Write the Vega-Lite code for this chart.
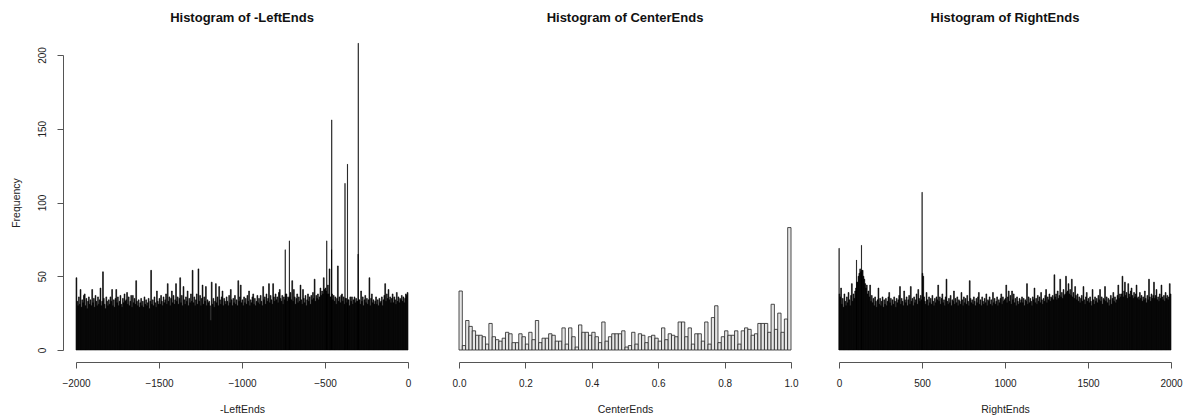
{
"$schema":"https://vega.github.io/schema/vega-lite/v6.json",
"background":"white",
"padding":{"left":11,"top":11,"right":8,"bottom":2},
"config":{
 "view":{"stroke":null},
 "font":"Liberation Sans",
 "axis":{"grid":false,"domainColor":"#555","tickColor":"#555","labelColor":"#222","titleColor":"#222","labelFont":"Liberation Sans","titleFont":"Liberation Sans","labelFontSize":10,"titleFontSize":10.5,"titleFontWeight":"normal","tickSize":6,"domainWidth":1,"tickWidth":1,"labelFlush":false,"labelOverlap":false},
 "title":{"fontSize":13,"fontWeight":"bold","font":"Liberation Sans","color":"#111","offset":30,"anchor":"middle"}
},
"datasets":{
"L":[
{"a":-2000,"b":-1995,"n":49},{"a":-1995,"b":-1990,"n":33},{"a":-1990,"b":-1985,"n":30},{"a":-1985,"b":-1980,"n":36},{"a":-1980,"b":-1975,"n":31},{"a":-1975,"b":-1970,"n":41},{"a":-1970,"b":-1965,"n":29},{"a":-1965,"b":-1960,"n":34},{"a":-1960,"b":-1955,"n":32},{"a":-1955,"b":-1950,"n":37},{"a":-1950,"b":-1945,"n":38},{"a":-1945,"b":-1940,"n":30},{"a":-1940,"b":-1935,"n":35},{"a":-1935,"b":-1930,"n":28},{"a":-1930,"b":-1925,"n":33},{"a":-1925,"b":-1920,"n":36},{"a":-1920,"b":-1915,"n":31},{"a":-1915,"b":-1910,"n":34},{"a":-1910,"b":-1905,"n":30},{"a":-1905,"b":-1900,"n":41},
{"a":-1900,"b":-1895,"n":32},{"a":-1895,"b":-1890,"n":35},{"a":-1890,"b":-1885,"n":29},{"a":-1885,"b":-1880,"n":37},{"a":-1880,"b":-1875,"n":33},{"a":-1875,"b":-1870,"n":30},{"a":-1870,"b":-1865,"n":36},{"a":-1865,"b":-1860,"n":31},{"a":-1860,"b":-1855,"n":34},{"a":-1855,"b":-1850,"n":42},{"a":-1850,"b":-1845,"n":30},{"a":-1845,"b":-1840,"n":33},{"a":-1840,"b":-1835,"n":53},{"a":-1835,"b":-1830,"n":35},{"a":-1830,"b":-1825,"n":31},{"a":-1825,"b":-1820,"n":28},{"a":-1820,"b":-1815,"n":36},{"a":-1815,"b":-1810,"n":33},{"a":-1810,"b":-1805,"n":30},{"a":-1805,"b":-1800,"n":34},
{"a":-1800,"b":-1795,"n":31},{"a":-1795,"b":-1790,"n":36},{"a":-1790,"b":-1785,"n":33},{"a":-1785,"b":-1780,"n":41},{"a":-1780,"b":-1775,"n":30},{"a":-1775,"b":-1770,"n":34},{"a":-1770,"b":-1765,"n":29},{"a":-1765,"b":-1760,"n":35},{"a":-1760,"b":-1755,"n":41},{"a":-1755,"b":-1750,"n":32},{"a":-1750,"b":-1745,"n":36},{"a":-1745,"b":-1740,"n":30},{"a":-1740,"b":-1735,"n":33},{"a":-1735,"b":-1730,"n":37},{"a":-1730,"b":-1725,"n":31},{"a":-1725,"b":-1720,"n":29},{"a":-1720,"b":-1715,"n":35},{"a":-1715,"b":-1710,"n":32},{"a":-1710,"b":-1705,"n":38},{"a":-1705,"b":-1700,"n":33},
{"a":-1700,"b":-1695,"n":34},{"a":-1695,"b":-1690,"n":39},{"a":-1690,"b":-1685,"n":31},{"a":-1685,"b":-1680,"n":36},{"a":-1680,"b":-1675,"n":30},{"a":-1675,"b":-1670,"n":33},{"a":-1670,"b":-1665,"n":37},{"a":-1665,"b":-1660,"n":29},{"a":-1660,"b":-1655,"n":37},{"a":-1655,"b":-1650,"n":32},{"a":-1650,"b":-1645,"n":35},{"a":-1645,"b":-1640,"n":31},{"a":-1640,"b":-1635,"n":47},{"a":-1635,"b":-1630,"n":33},{"a":-1630,"b":-1625,"n":30},{"a":-1625,"b":-1620,"n":34},{"a":-1620,"b":-1615,"n":29},{"a":-1615,"b":-1610,"n":32},{"a":-1610,"b":-1605,"n":35},{"a":-1605,"b":-1600,"n":30},
{"a":-1600,"b":-1595,"n":33},{"a":-1595,"b":-1590,"n":29},{"a":-1590,"b":-1585,"n":36},{"a":-1585,"b":-1580,"n":31},{"a":-1580,"b":-1575,"n":34},{"a":-1575,"b":-1570,"n":30},{"a":-1570,"b":-1565,"n":32},{"a":-1565,"b":-1560,"n":35},{"a":-1560,"b":-1555,"n":28},{"a":-1555,"b":-1550,"n":33},{"a":-1550,"b":-1545,"n":54},{"a":-1545,"b":-1540,"n":31},{"a":-1540,"b":-1535,"n":34},{"a":-1535,"b":-1530,"n":30},{"a":-1530,"b":-1525,"n":36},{"a":-1525,"b":-1520,"n":32},{"a":-1520,"b":-1515,"n":29},{"a":-1515,"b":-1510,"n":40},{"a":-1510,"b":-1505,"n":33},{"a":-1505,"b":-1500,"n":31},
{"a":-1500,"b":-1495,"n":35},{"a":-1495,"b":-1490,"n":31},{"a":-1490,"b":-1485,"n":37},{"a":-1485,"b":-1480,"n":33},{"a":-1480,"b":-1475,"n":30},{"a":-1475,"b":-1470,"n":36},{"a":-1470,"b":-1465,"n":32},{"a":-1465,"b":-1460,"n":34},{"a":-1460,"b":-1455,"n":38},{"a":-1455,"b":-1450,"n":31},{"a":-1450,"b":-1445,"n":45},{"a":-1445,"b":-1440,"n":33},{"a":-1440,"b":-1435,"n":36},{"a":-1435,"b":-1430,"n":30},{"a":-1430,"b":-1425,"n":35},{"a":-1425,"b":-1420,"n":40},{"a":-1420,"b":-1415,"n":32},{"a":-1415,"b":-1410,"n":37},{"a":-1410,"b":-1405,"n":31},{"a":-1405,"b":-1400,"n":34},
{"a":-1400,"b":-1395,"n":45},{"a":-1395,"b":-1390,"n":33},{"a":-1390,"b":-1385,"n":36},{"a":-1385,"b":-1380,"n":31},{"a":-1380,"b":-1375,"n":35},{"a":-1375,"b":-1370,"n":49},{"a":-1370,"b":-1365,"n":32},{"a":-1365,"b":-1360,"n":37},{"a":-1360,"b":-1355,"n":30},{"a":-1355,"b":-1350,"n":43},{"a":-1350,"b":-1345,"n":34},{"a":-1345,"b":-1340,"n":31},{"a":-1340,"b":-1335,"n":36},{"a":-1335,"b":-1330,"n":33},{"a":-1330,"b":-1325,"n":40},{"a":-1325,"b":-1320,"n":30},{"a":-1320,"b":-1315,"n":35},{"a":-1315,"b":-1310,"n":32},{"a":-1310,"b":-1305,"n":38},{"a":-1305,"b":-1300,"n":33},
{"a":-1300,"b":-1295,"n":54},{"a":-1295,"b":-1290,"n":32},{"a":-1290,"b":-1285,"n":36},{"a":-1285,"b":-1280,"n":30},{"a":-1280,"b":-1275,"n":34},{"a":-1275,"b":-1270,"n":38},{"a":-1270,"b":-1265,"n":31},{"a":-1265,"b":-1260,"n":55},{"a":-1260,"b":-1255,"n":33},{"a":-1255,"b":-1250,"n":37},{"a":-1250,"b":-1245,"n":30},{"a":-1245,"b":-1240,"n":35},{"a":-1240,"b":-1235,"n":44},{"a":-1235,"b":-1230,"n":31},{"a":-1230,"b":-1225,"n":36},{"a":-1225,"b":-1220,"n":33},{"a":-1220,"b":-1215,"n":43},{"a":-1215,"b":-1210,"n":30},{"a":-1210,"b":-1205,"n":34},{"a":-1205,"b":-1200,"n":32},
{"a":-1200,"b":-1195,"n":33},{"a":-1195,"b":-1190,"n":30},{"a":-1190,"b":-1185,"n":20},{"a":-1185,"b":-1180,"n":46},{"a":-1180,"b":-1175,"n":31},{"a":-1175,"b":-1170,"n":35},{"a":-1170,"b":-1165,"n":29},{"a":-1165,"b":-1160,"n":33},{"a":-1160,"b":-1155,"n":45},{"a":-1155,"b":-1150,"n":32},{"a":-1150,"b":-1145,"n":36},{"a":-1145,"b":-1140,"n":30},{"a":-1140,"b":-1135,"n":43},{"a":-1135,"b":-1130,"n":34},{"a":-1130,"b":-1125,"n":31},{"a":-1125,"b":-1120,"n":36},{"a":-1120,"b":-1115,"n":40},{"a":-1115,"b":-1110,"n":30},{"a":-1110,"b":-1105,"n":35},{"a":-1105,"b":-1100,"n":33},
{"a":-1100,"b":-1095,"n":31},{"a":-1095,"b":-1090,"n":36},{"a":-1090,"b":-1085,"n":33},{"a":-1085,"b":-1080,"n":30},{"a":-1080,"b":-1075,"n":37},{"a":-1075,"b":-1070,"n":32},{"a":-1070,"b":-1065,"n":41},{"a":-1065,"b":-1060,"n":34},{"a":-1060,"b":-1055,"n":30},{"a":-1055,"b":-1050,"n":35},{"a":-1050,"b":-1045,"n":32},{"a":-1045,"b":-1040,"n":37},{"a":-1040,"b":-1035,"n":31},{"a":-1035,"b":-1030,"n":34},{"a":-1030,"b":-1025,"n":30},{"a":-1025,"b":-1020,"n":47},{"a":-1020,"b":-1015,"n":33},{"a":-1015,"b":-1010,"n":36},{"a":-1010,"b":-1005,"n":44},{"a":-1005,"b":-1000,"n":32},
{"a":-1000,"b":-995,"n":34},{"a":-995,"b":-990,"n":30},{"a":-990,"b":-985,"n":36},{"a":-985,"b":-980,"n":32},{"a":-980,"b":-975,"n":35},{"a":-975,"b":-970,"n":31},{"a":-970,"b":-965,"n":37},{"a":-965,"b":-960,"n":33},{"a":-960,"b":-955,"n":40},{"a":-955,"b":-950,"n":30},{"a":-950,"b":-945,"n":34},{"a":-945,"b":-940,"n":32},{"a":-940,"b":-935,"n":36},{"a":-935,"b":-930,"n":38},{"a":-930,"b":-925,"n":31},{"a":-925,"b":-920,"n":35},{"a":-920,"b":-915,"n":30},{"a":-915,"b":-910,"n":33},{"a":-910,"b":-905,"n":37},{"a":-905,"b":-900,"n":32},
{"a":-900,"b":-895,"n":35},{"a":-895,"b":-890,"n":31},{"a":-890,"b":-885,"n":37},{"a":-885,"b":-880,"n":33},{"a":-880,"b":-875,"n":30},{"a":-875,"b":-870,"n":43},{"a":-870,"b":-865,"n":34},{"a":-865,"b":-860,"n":36},{"a":-860,"b":-855,"n":31},{"a":-855,"b":-850,"n":38},{"a":-850,"b":-845,"n":33},{"a":-845,"b":-840,"n":35},{"a":-840,"b":-835,"n":45},{"a":-835,"b":-830,"n":32},{"a":-830,"b":-825,"n":37},{"a":-825,"b":-820,"n":34},{"a":-820,"b":-815,"n":31},{"a":-815,"b":-810,"n":45},{"a":-810,"b":-805,"n":36},{"a":-805,"b":-800,"n":33},
{"a":-800,"b":-795,"n":38},{"a":-795,"b":-790,"n":34},{"a":-790,"b":-785,"n":36},{"a":-785,"b":-780,"n":32},{"a":-780,"b":-775,"n":39},{"a":-775,"b":-770,"n":41},{"a":-770,"b":-765,"n":35},{"a":-765,"b":-760,"n":33},{"a":-760,"b":-755,"n":37},{"a":-755,"b":-750,"n":31},{"a":-750,"b":-745,"n":36},{"a":-745,"b":-740,"n":34},{"a":-740,"b":-739,"n":68},{"a":-739,"b":-735,"n":38},{"a":-735,"b":-730,"n":38},{"a":-730,"b":-725,"n":33},{"a":-725,"b":-720,"n":36},{"a":-720,"b":-715,"n":35},{"a":-715,"b":-714,"n":74},{"a":-714,"b":-710,"n":36},{"a":-710,"b":-705,"n":39},{"a":-705,"b":-700,"n":34},
{"a":-700,"b":-695,"n":47},{"a":-695,"b":-690,"n":33},{"a":-690,"b":-685,"n":41},{"a":-685,"b":-680,"n":36},{"a":-680,"b":-675,"n":31},{"a":-675,"b":-670,"n":35},{"a":-670,"b":-665,"n":38},{"a":-665,"b":-660,"n":32},{"a":-660,"b":-655,"n":36},{"a":-655,"b":-650,"n":33},{"a":-650,"b":-645,"n":44},{"a":-645,"b":-640,"n":34},{"a":-640,"b":-635,"n":31},{"a":-635,"b":-630,"n":41},{"a":-630,"b":-625,"n":35},{"a":-625,"b":-620,"n":32},{"a":-620,"b":-615,"n":37},{"a":-615,"b":-610,"n":30},{"a":-610,"b":-605,"n":34},{"a":-605,"b":-600,"n":38},
{"a":-600,"b":-595,"n":33},{"a":-595,"b":-590,"n":36},{"a":-590,"b":-585,"n":31},{"a":-585,"b":-580,"n":37},{"a":-580,"b":-575,"n":34},{"a":-575,"b":-570,"n":39},{"a":-570,"b":-565,"n":35},{"a":-565,"b":-560,"n":48},{"a":-560,"b":-555,"n":33},{"a":-555,"b":-550,"n":37},{"a":-550,"b":-545,"n":35},{"a":-545,"b":-540,"n":38},{"a":-540,"b":-535,"n":34},{"a":-535,"b":-530,"n":36},{"a":-530,"b":-525,"n":42},{"a":-525,"b":-520,"n":37},{"a":-520,"b":-515,"n":40},{"a":-515,"b":-510,"n":38},{"a":-510,"b":-505,"n":49},{"a":-505,"b":-500,"n":41},
{"a":-500,"b":-495,"n":42},{"a":-495,"b":-490,"n":40},{"a":-490,"b":-489,"n":74},{"a":-489,"b":-485,"n":38},{"a":-485,"b":-480,"n":44},{"a":-480,"b":-475,"n":38},{"a":-475,"b":-470,"n":55},{"a":-470,"b":-465,"n":36},{"a":-465,"b":-461,"n":36},{"a":-461,"b":-460,"n":68},{"a":-460,"b":-459,"n":156},{"a":-459,"b":-455,"n":38},{"a":-455,"b":-450,"n":34},{"a":-450,"b":-445,"n":37},{"a":-445,"b":-440,"n":33},{"a":-440,"b":-435,"n":36},{"a":-435,"b":-430,"n":31},{"a":-430,"b":-425,"n":35},{"a":-425,"b":-420,"n":57},{"a":-420,"b":-415,"n":33},{"a":-415,"b":-410,"n":36},{"a":-410,"b":-405,"n":32},{"a":-405,"b":-400,"n":37},
{"a":-400,"b":-395,"n":38},{"a":-395,"b":-390,"n":33},{"a":-390,"b":-385,"n":36},{"a":-385,"b":-380,"n":31},{"a":-380,"b":-379,"n":113},{"a":-379,"b":-375,"n":35},{"a":-375,"b":-370,"n":35},{"a":-370,"b":-365,"n":32},{"a":-365,"b":-364,"n":126},{"a":-364,"b":-360,"n":34},{"a":-360,"b":-355,"n":34},{"a":-355,"b":-350,"n":30},{"a":-350,"b":-345,"n":36},{"a":-345,"b":-340,"n":33},{"a":-340,"b":-335,"n":36},{"a":-335,"b":-330,"n":31},{"a":-330,"b":-325,"n":34},{"a":-325,"b":-320,"n":36},{"a":-320,"b":-315,"n":32},{"a":-315,"b":-310,"n":35},{"a":-310,"b":-305,"n":33},{"a":-305,"b":-301,"n":33},{"a":-301,"b":-300,"n":65},
{"a":-300,"b":-299,"n":208},{"a":-299,"b":-295,"n":34},{"a":-295,"b":-290,"n":34},{"a":-290,"b":-285,"n":31},{"a":-285,"b":-280,"n":40},{"a":-280,"b":-275,"n":33},{"a":-275,"b":-270,"n":36},{"a":-270,"b":-265,"n":30},{"a":-265,"b":-260,"n":34},{"a":-260,"b":-255,"n":37},{"a":-255,"b":-250,"n":32},{"a":-250,"b":-245,"n":35},{"a":-245,"b":-240,"n":31},{"a":-240,"b":-235,"n":34},{"a":-235,"b":-230,"n":49},{"a":-230,"b":-225,"n":30},{"a":-225,"b":-220,"n":35},{"a":-220,"b":-215,"n":38},{"a":-215,"b":-210,"n":32},{"a":-210,"b":-205,"n":34},{"a":-205,"b":-200,"n":31},
{"a":-200,"b":-195,"n":33},{"a":-195,"b":-190,"n":36},{"a":-190,"b":-185,"n":31},{"a":-185,"b":-180,"n":34},{"a":-180,"b":-175,"n":30},{"a":-175,"b":-170,"n":35},{"a":-170,"b":-165,"n":32},{"a":-165,"b":-160,"n":33},{"a":-160,"b":-155,"n":36},{"a":-155,"b":-150,"n":30},{"a":-150,"b":-145,"n":34},{"a":-145,"b":-140,"n":37},{"a":-140,"b":-135,"n":45},{"a":-135,"b":-130,"n":33},{"a":-130,"b":-125,"n":38},{"a":-125,"b":-120,"n":35},{"a":-120,"b":-115,"n":41},{"a":-115,"b":-110,"n":34},{"a":-110,"b":-105,"n":36},{"a":-105,"b":-100,"n":32},
{"a":-100,"b":-95,"n":35},{"a":-95,"b":-90,"n":38},{"a":-90,"b":-85,"n":32},{"a":-85,"b":-80,"n":36},{"a":-80,"b":-75,"n":34},{"a":-75,"b":-70,"n":31},{"a":-70,"b":-65,"n":39},{"a":-65,"b":-60,"n":33},{"a":-60,"b":-55,"n":36},{"a":-55,"b":-50,"n":32},{"a":-50,"b":-45,"n":35},{"a":-45,"b":-40,"n":34},{"a":-40,"b":-35,"n":37},{"a":-35,"b":-30,"n":33},{"a":-30,"b":-25,"n":36},{"a":-25,"b":-20,"n":32},{"a":-20,"b":-15,"n":35},{"a":-15,"b":-10,"n":38},{"a":-10,"b":-5,"n":37},{"a":-5,"b":0,"n":39}
],
"C":[
{"a":0,"b":0.01,"n":40},{"a":0.01,"b":0.02,"n":3},{"a":0.02,"b":0.03,"n":20},{"a":0.03,"b":0.04,"n":16},{"a":0.04,"b":0.05,"n":13},{"a":0.05,"b":0.06,"n":10},{"a":0.06,"b":0.07,"n":10},{"a":0.07,"b":0.08,"n":9},{"a":0.08,"b":0.09,"n":4},{"a":0.09,"b":0.1,"n":18},
{"a":0.1,"b":0.11,"n":9},{"a":0.11,"b":0.12,"n":7},{"a":0.12,"b":0.13,"n":6},{"a":0.13,"b":0.14,"n":8},{"a":0.14,"b":0.15,"n":12},{"a":0.15,"b":0.16,"n":11},{"a":0.16,"b":0.17,"n":5},{"a":0.17,"b":0.18,"n":5},{"a":0.18,"b":0.19,"n":11},{"a":0.19,"b":0.2,"n":9},
{"a":0.2,"b":0.21,"n":4},{"a":0.21,"b":0.22,"n":12},{"a":0.22,"b":0.23,"n":7},{"a":0.23,"b":0.24,"n":20},{"a":0.24,"b":0.25,"n":5},{"a":0.25,"b":0.26,"n":8},{"a":0.26,"b":0.27,"n":8},{"a":0.27,"b":0.28,"n":11},{"a":0.28,"b":0.29,"n":10},{"a":0.29,"b":0.3,"n":6},
{"a":0.3,"b":0.31,"n":6},{"a":0.31,"b":0.32,"n":15},{"a":0.32,"b":0.33,"n":4},{"a":0.33,"b":0.34,"n":15},{"a":0.34,"b":0.35,"n":9},{"a":0.35,"b":0.36,"n":2},{"a":0.36,"b":0.37,"n":17},{"a":0.37,"b":0.38,"n":12},{"a":0.38,"b":0.39,"n":12},{"a":0.39,"b":0.4,"n":10},
{"a":0.4,"b":0.41,"n":12},{"a":0.41,"b":0.42,"n":9},{"a":0.42,"b":0.43,"n":5},{"a":0.43,"b":0.44,"n":19},{"a":0.44,"b":0.45,"n":6},{"a":0.45,"b":0.46,"n":9},{"a":0.46,"b":0.47,"n":11},{"a":0.47,"b":0.48,"n":11},{"a":0.48,"b":0.49,"n":11},{"a":0.49,"b":0.5,"n":13},
{"a":0.5,"b":0.51,"n":2},{"a":0.51,"b":0.52,"n":3},{"a":0.52,"b":0.53,"n":12},{"a":0.53,"b":0.54,"n":4},{"a":0.54,"b":0.55,"n":11},{"a":0.55,"b":0.56,"n":10},{"a":0.56,"b":0.57,"n":5},{"a":0.57,"b":0.58,"n":9},{"a":0.58,"b":0.59,"n":10},{"a":0.59,"b":0.6,"n":8},
{"a":0.6,"b":0.61,"n":6},{"a":0.61,"b":0.62,"n":15},{"a":0.62,"b":0.63,"n":7},{"a":0.63,"b":0.64,"n":11},{"a":0.64,"b":0.65,"n":10},{"a":0.65,"b":0.66,"n":9},{"a":0.66,"b":0.67,"n":19},{"a":0.67,"b":0.68,"n":19},{"a":0.68,"b":0.69,"n":9},{"a":0.69,"b":0.7,"n":15},
{"a":0.7,"b":0.71,"n":4},{"a":0.71,"b":0.72,"n":11},{"a":0.72,"b":0.73,"n":11},{"a":0.73,"b":0.74,"n":6},{"a":0.74,"b":0.75,"n":19},{"a":0.75,"b":0.76,"n":4},{"a":0.76,"b":0.77,"n":22},{"a":0.77,"b":0.78,"n":30},{"a":0.78,"b":0.79,"n":5},{"a":0.79,"b":0.8,"n":9},
{"a":0.8,"b":0.81,"n":13},{"a":0.81,"b":0.82,"n":10},{"a":0.82,"b":0.83,"n":10},{"a":0.83,"b":0.84,"n":13},{"a":0.84,"b":0.85,"n":4},{"a":0.85,"b":0.86,"n":13},{"a":0.86,"b":0.87,"n":15},{"a":0.87,"b":0.88,"n":14},{"a":0.88,"b":0.89,"n":10},{"a":0.89,"b":0.9,"n":11},
{"a":0.9,"b":0.91,"n":18},{"a":0.91,"b":0.92,"n":18},{"a":0.92,"b":0.93,"n":18},{"a":0.93,"b":0.94,"n":12},{"a":0.94,"b":0.95,"n":31},{"a":0.95,"b":0.96,"n":14},{"a":0.96,"b":0.97,"n":25},{"a":0.97,"b":0.98,"n":12},{"a":0.98,"b":0.99,"n":21},{"a":0.99,"b":1,"n":83}
],
"R":[
{"a":0,"b":1,"n":69},{"a":1,"b":5,"n":38},{"a":5,"b":10,"n":36},{"a":10,"b":15,"n":42},{"a":15,"b":20,"n":31},{"a":20,"b":25,"n":35},{"a":25,"b":30,"n":29},{"a":30,"b":35,"n":38},{"a":35,"b":40,"n":33},{"a":40,"b":45,"n":30},{"a":45,"b":50,"n":36},{"a":50,"b":55,"n":32},{"a":55,"b":60,"n":39},{"a":60,"b":65,"n":34},{"a":65,"b":70,"n":30},{"a":70,"b":75,"n":37},{"a":75,"b":80,"n":45},{"a":80,"b":85,"n":33},{"a":85,"b":90,"n":38},{"a":90,"b":95,"n":35},{"a":95,"b":100,"n":40},
{"a":100,"b":105,"n":42},{"a":105,"b":106,"n":61},{"a":106,"b":110,"n":46},{"a":110,"b":115,"n":46},{"a":115,"b":120,"n":50},{"a":120,"b":125,"n":52},{"a":125,"b":130,"n":55},{"a":130,"b":135,"n":53},{"a":135,"b":136,"n":71},{"a":136,"b":140,"n":54},{"a":140,"b":145,"n":54},{"a":145,"b":150,"n":50},{"a":150,"b":155,"n":48},{"a":155,"b":160,"n":45},{"a":160,"b":165,"n":42},{"a":165,"b":170,"n":44},{"a":170,"b":175,"n":38},{"a":175,"b":180,"n":40},{"a":180,"b":185,"n":36},{"a":185,"b":190,"n":44},{"a":190,"b":195,"n":33},{"a":195,"b":200,"n":37},
{"a":200,"b":205,"n":32},{"a":205,"b":210,"n":35},{"a":210,"b":215,"n":30},{"a":215,"b":220,"n":36},{"a":220,"b":225,"n":33},{"a":225,"b":230,"n":29},{"a":230,"b":235,"n":34},{"a":235,"b":240,"n":42},{"a":240,"b":245,"n":31},{"a":245,"b":250,"n":35},{"a":250,"b":255,"n":30},{"a":255,"b":260,"n":33},{"a":260,"b":265,"n":36},{"a":265,"b":270,"n":29},{"a":270,"b":275,"n":34},{"a":275,"b":280,"n":31},{"a":280,"b":285,"n":35},{"a":285,"b":290,"n":30},{"a":290,"b":295,"n":33},{"a":295,"b":300,"n":36},
{"a":300,"b":305,"n":39},{"a":305,"b":310,"n":32},{"a":310,"b":315,"n":35},{"a":315,"b":320,"n":30},{"a":320,"b":325,"n":34},{"a":325,"b":330,"n":31},{"a":330,"b":335,"n":36},{"a":335,"b":340,"n":33},{"a":340,"b":345,"n":29},{"a":345,"b":350,"n":35},{"a":350,"b":355,"n":32},{"a":355,"b":360,"n":34},{"a":360,"b":365,"n":37},{"a":365,"b":370,"n":43},{"a":370,"b":375,"n":31},{"a":375,"b":380,"n":35},{"a":380,"b":385,"n":33},{"a":385,"b":390,"n":30},{"a":390,"b":395,"n":40},{"a":395,"b":400,"n":34},
{"a":400,"b":405,"n":32},{"a":405,"b":410,"n":36},{"a":410,"b":415,"n":30},{"a":415,"b":420,"n":34},{"a":420,"b":425,"n":37},{"a":425,"b":430,"n":31},{"a":430,"b":435,"n":43},{"a":435,"b":440,"n":33},{"a":440,"b":445,"n":35},{"a":445,"b":450,"n":30},{"a":450,"b":455,"n":36},{"a":455,"b":460,"n":32},{"a":460,"b":465,"n":34},{"a":465,"b":470,"n":38},{"a":470,"b":475,"n":31},{"a":475,"b":480,"n":41},{"a":480,"b":485,"n":35},{"a":485,"b":490,"n":33},{"a":490,"b":495,"n":37},{"a":495,"b":500,"n":34},
{"a":500,"b":501,"n":107},{"a":501,"b":505,"n":52},{"a":505,"b":510,"n":50},{"a":510,"b":515,"n":36},{"a":515,"b":520,"n":33},{"a":520,"b":525,"n":31},{"a":525,"b":530,"n":39},{"a":530,"b":535,"n":34},{"a":535,"b":540,"n":30},{"a":540,"b":545,"n":36},{"a":545,"b":550,"n":32},{"a":550,"b":555,"n":35},{"a":555,"b":560,"n":31},{"a":560,"b":565,"n":37},{"a":565,"b":570,"n":33},{"a":570,"b":575,"n":30},{"a":575,"b":580,"n":35},{"a":580,"b":585,"n":32},{"a":585,"b":590,"n":36},{"a":590,"b":595,"n":34},{"a":595,"b":600,"n":44},
{"a":600,"b":605,"n":33},{"a":605,"b":610,"n":36},{"a":610,"b":615,"n":31},{"a":615,"b":620,"n":35},{"a":620,"b":625,"n":38},{"a":625,"b":630,"n":32},{"a":630,"b":635,"n":34},{"a":635,"b":640,"n":30},{"a":640,"b":645,"n":36},{"a":645,"b":650,"n":48},{"a":650,"b":655,"n":33},{"a":655,"b":660,"n":31},{"a":660,"b":665,"n":35},{"a":665,"b":670,"n":32},{"a":670,"b":675,"n":37},{"a":675,"b":680,"n":30},{"a":680,"b":685,"n":34},{"a":685,"b":690,"n":33},{"a":690,"b":695,"n":40},{"a":695,"b":700,"n":31},
{"a":700,"b":705,"n":35},{"a":705,"b":710,"n":32},{"a":710,"b":715,"n":36},{"a":715,"b":720,"n":30},{"a":720,"b":725,"n":34},{"a":725,"b":730,"n":33},{"a":730,"b":735,"n":31},{"a":735,"b":740,"n":39},{"a":740,"b":745,"n":34},{"a":745,"b":750,"n":30},{"a":750,"b":755,"n":36},{"a":755,"b":760,"n":32},{"a":760,"b":765,"n":35},{"a":765,"b":770,"n":31},{"a":770,"b":775,"n":37},{"a":775,"b":780,"n":33},{"a":780,"b":785,"n":30},{"a":785,"b":790,"n":47},{"a":790,"b":795,"n":35},{"a":795,"b":800,"n":32},
{"a":800,"b":805,"n":34},{"a":805,"b":810,"n":31},{"a":810,"b":815,"n":36},{"a":815,"b":820,"n":33},{"a":820,"b":825,"n":30},{"a":825,"b":830,"n":35},{"a":830,"b":835,"n":32},{"a":835,"b":840,"n":36},{"a":840,"b":845,"n":39},{"a":845,"b":850,"n":31},{"a":850,"b":855,"n":34},{"a":855,"b":860,"n":30},{"a":860,"b":865,"n":36},{"a":865,"b":870,"n":33},{"a":870,"b":875,"n":31},{"a":875,"b":880,"n":35},{"a":880,"b":885,"n":32},{"a":885,"b":890,"n":38},{"a":890,"b":895,"n":30},{"a":895,"b":900,"n":34},
{"a":900,"b":905,"n":33},{"a":905,"b":910,"n":36},{"a":910,"b":915,"n":31},{"a":915,"b":920,"n":34},{"a":920,"b":925,"n":30},{"a":925,"b":930,"n":39},{"a":930,"b":935,"n":32},{"a":935,"b":940,"n":35},{"a":940,"b":945,"n":31},{"a":945,"b":950,"n":33},{"a":950,"b":955,"n":36},{"a":955,"b":960,"n":30},{"a":960,"b":965,"n":34},{"a":965,"b":970,"n":32},{"a":970,"b":975,"n":35},{"a":975,"b":980,"n":38},{"a":980,"b":985,"n":31},{"a":985,"b":990,"n":36},{"a":990,"b":995,"n":33},{"a":995,"b":1000,"n":34},
{"a":1000,"b":1005,"n":35},{"a":1005,"b":1010,"n":44},{"a":1010,"b":1015,"n":32},{"a":1015,"b":1020,"n":36},{"a":1020,"b":1025,"n":40},{"a":1025,"b":1030,"n":33},{"a":1030,"b":1035,"n":37},{"a":1035,"b":1040,"n":31},{"a":1040,"b":1045,"n":40},{"a":1045,"b":1050,"n":34},{"a":1050,"b":1055,"n":38},{"a":1055,"b":1060,"n":32},{"a":1060,"b":1065,"n":35},{"a":1065,"b":1070,"n":30},{"a":1070,"b":1075,"n":36},{"a":1075,"b":1080,"n":33},{"a":1080,"b":1085,"n":31},{"a":1085,"b":1090,"n":35},{"a":1090,"b":1095,"n":32},{"a":1095,"b":1100,"n":34},
{"a":1100,"b":1105,"n":36},{"a":1105,"b":1110,"n":32},{"a":1110,"b":1115,"n":35},{"a":1115,"b":1120,"n":30},{"a":1120,"b":1125,"n":34},{"a":1125,"b":1130,"n":33},{"a":1130,"b":1135,"n":45},{"a":1135,"b":1140,"n":31},{"a":1140,"b":1145,"n":36},{"a":1145,"b":1150,"n":32},{"a":1150,"b":1155,"n":35},{"a":1155,"b":1160,"n":33},{"a":1160,"b":1165,"n":30},{"a":1165,"b":1170,"n":36},{"a":1170,"b":1175,"n":34},{"a":1175,"b":1180,"n":42},{"a":1180,"b":1185,"n":32},{"a":1185,"b":1190,"n":35},{"a":1190,"b":1195,"n":31},{"a":1195,"b":1200,"n":37},
{"a":1200,"b":1205,"n":33},{"a":1205,"b":1210,"n":36},{"a":1210,"b":1215,"n":32},{"a":1215,"b":1220,"n":39},{"a":1220,"b":1225,"n":34},{"a":1225,"b":1230,"n":31},{"a":1230,"b":1235,"n":35},{"a":1235,"b":1240,"n":33},{"a":1240,"b":1245,"n":37},{"a":1245,"b":1250,"n":41},{"a":1250,"b":1255,"n":32},{"a":1255,"b":1260,"n":36},{"a":1260,"b":1265,"n":34},{"a":1265,"b":1270,"n":38},{"a":1270,"b":1275,"n":33},{"a":1275,"b":1280,"n":36},{"a":1280,"b":1285,"n":35},{"a":1285,"b":1290,"n":37},{"a":1290,"b":1295,"n":34},{"a":1295,"b":1300,"n":51},
{"a":1300,"b":1305,"n":36},{"a":1305,"b":1310,"n":38},{"a":1310,"b":1315,"n":34},{"a":1315,"b":1320,"n":40},{"a":1320,"b":1325,"n":35},{"a":1325,"b":1330,"n":37},{"a":1330,"b":1335,"n":48},{"a":1335,"b":1340,"n":36},{"a":1340,"b":1345,"n":39},{"a":1345,"b":1350,"n":35},{"a":1350,"b":1355,"n":41},{"a":1355,"b":1360,"n":37},{"a":1360,"b":1365,"n":38},{"a":1365,"b":1370,"n":50},{"a":1370,"b":1375,"n":39},{"a":1375,"b":1380,"n":40},{"a":1380,"b":1385,"n":45},{"a":1385,"b":1390,"n":38},{"a":1390,"b":1395,"n":41},{"a":1395,"b":1400,"n":37},
{"a":1400,"b":1405,"n":48},{"a":1405,"b":1410,"n":36},{"a":1410,"b":1415,"n":39},{"a":1415,"b":1420,"n":35},{"a":1420,"b":1425,"n":43},{"a":1425,"b":1430,"n":37},{"a":1430,"b":1435,"n":34},{"a":1435,"b":1440,"n":38},{"a":1440,"b":1445,"n":33},{"a":1445,"b":1450,"n":36},{"a":1450,"b":1455,"n":32},{"a":1455,"b":1460,"n":35},{"a":1460,"b":1465,"n":37},{"a":1465,"b":1470,"n":33},{"a":1470,"b":1475,"n":43},{"a":1475,"b":1480,"n":34},{"a":1480,"b":1485,"n":31},{"a":1485,"b":1490,"n":36},{"a":1490,"b":1495,"n":39},{"a":1495,"b":1500,"n":33},
{"a":1500,"b":1505,"n":35},{"a":1505,"b":1510,"n":32},{"a":1510,"b":1515,"n":36},{"a":1515,"b":1520,"n":33},{"a":1520,"b":1525,"n":30},{"a":1525,"b":1530,"n":41},{"a":1530,"b":1535,"n":34},{"a":1535,"b":1540,"n":31},{"a":1540,"b":1545,"n":36},{"a":1545,"b":1550,"n":33},{"a":1550,"b":1555,"n":35},{"a":1555,"b":1560,"n":32},{"a":1560,"b":1565,"n":37},{"a":1565,"b":1570,"n":34},{"a":1570,"b":1575,"n":41},{"a":1575,"b":1580,"n":33},{"a":1580,"b":1585,"n":36},{"a":1585,"b":1590,"n":31},{"a":1590,"b":1595,"n":35},{"a":1595,"b":1600,"n":34},
{"a":1600,"b":1605,"n":43},{"a":1605,"b":1610,"n":33},{"a":1610,"b":1615,"n":36},{"a":1615,"b":1620,"n":32},{"a":1620,"b":1625,"n":35},{"a":1625,"b":1630,"n":30},{"a":1630,"b":1635,"n":34},{"a":1635,"b":1640,"n":37},{"a":1640,"b":1645,"n":31},{"a":1645,"b":1650,"n":35},{"a":1650,"b":1655,"n":39},{"a":1655,"b":1660,"n":33},{"a":1660,"b":1665,"n":36},{"a":1665,"b":1670,"n":32},{"a":1670,"b":1675,"n":34},{"a":1675,"b":1680,"n":37},{"a":1680,"b":1685,"n":44},{"a":1685,"b":1690,"n":35},{"a":1690,"b":1695,"n":38},{"a":1695,"b":1700,"n":36},
{"a":1700,"b":1705,"n":38},{"a":1705,"b":1710,"n":50},{"a":1710,"b":1715,"n":36},{"a":1715,"b":1720,"n":40},{"a":1720,"b":1725,"n":46},{"a":1725,"b":1730,"n":37},{"a":1730,"b":1735,"n":39},{"a":1735,"b":1740,"n":35},{"a":1740,"b":1745,"n":45},{"a":1745,"b":1750,"n":38},{"a":1750,"b":1755,"n":36},{"a":1755,"b":1760,"n":40},{"a":1760,"b":1765,"n":42},{"a":1765,"b":1770,"n":37},{"a":1770,"b":1775,"n":35},{"a":1775,"b":1780,"n":39},{"a":1780,"b":1785,"n":36},{"a":1785,"b":1790,"n":38},{"a":1790,"b":1795,"n":44},{"a":1795,"b":1800,"n":35},
{"a":1800,"b":1805,"n":36},{"a":1805,"b":1810,"n":34},{"a":1810,"b":1815,"n":39},{"a":1815,"b":1820,"n":35},{"a":1820,"b":1825,"n":37},{"a":1825,"b":1830,"n":33},{"a":1830,"b":1835,"n":36},{"a":1835,"b":1840,"n":34},{"a":1840,"b":1845,"n":40},{"a":1845,"b":1850,"n":35},{"a":1850,"b":1855,"n":32},{"a":1855,"b":1860,"n":37},{"a":1860,"b":1865,"n":34},{"a":1865,"b":1870,"n":48},{"a":1870,"b":1875,"n":36},{"a":1875,"b":1880,"n":33},{"a":1880,"b":1885,"n":38},{"a":1885,"b":1890,"n":35},{"a":1890,"b":1895,"n":37},{"a":1895,"b":1900,"n":46},
{"a":1900,"b":1905,"n":35},{"a":1905,"b":1910,"n":37},{"a":1910,"b":1915,"n":41},{"a":1915,"b":1920,"n":34},{"a":1920,"b":1925,"n":36},{"a":1925,"b":1930,"n":33},{"a":1930,"b":1935,"n":38},{"a":1935,"b":1940,"n":35},{"a":1940,"b":1945,"n":44},{"a":1945,"b":1950,"n":36},{"a":1950,"b":1955,"n":34},{"a":1955,"b":1960,"n":37},{"a":1960,"b":1965,"n":33},{"a":1965,"b":1970,"n":39},{"a":1970,"b":1975,"n":35},{"a":1975,"b":1980,"n":37},{"a":1980,"b":1985,"n":34},{"a":1985,"b":1990,"n":36},{"a":1990,"b":1995,"n":45},{"a":1995,"b":2000,"n":38}
]
},
"bounds":"flush",
"spacing":51,
"hconcat":[
 {
  "data":{"name":"L"},
  "width":332,"height":295,
  "title":{"text":"Histogram of -LeftEnds","offset":18.2},
  "mark":{"type":"bar","color":"#000","stroke":"#000","strokeWidth":0.6},
  "encoding":{
   "x":{"field":"a","type":"quantitative","scale":{"domain":[-2000,0],"nice":false,"zero":false},
        "axis":{"title":"-LeftEnds","values":[-2000,-1500,-1000,-500,0],"format":"d","offset":12,"labelPadding":10,"titlePadding":16}},
   "x2":{"field":"b"},
   "y":{"field":"n","type":"quantitative","scale":{"domain":[0,200],"nice":false},
        "axis":{"title":"Frequency","values":[0,50,100,150,200],"offset":13,"labelAngle":-90,"labelAlign":"center","labelBaseline":"bottom","labelPadding":9.5,"titlePadding":16.5}},
   "y2":{"datum":0}
  }
 },
 {
  "bounds":"flush",
  "spacing":48,
  "hconcat":[
   {
    "data":{"name":"C"},
    "width":332,"height":295,
    "title":{"text":"Histogram of CenterEnds"},
    "mark":{"type":"bar","color":"#e6e6e6","stroke":"#222","strokeWidth":0.8},
    "encoding":{
     "x":{"field":"a","type":"quantitative","scale":{"domain":[0,1],"nice":false,"zero":false},
          "axis":{"title":"CenterEnds","values":[0,0.2,0.4,0.6,0.8,1],"format":".1f","offset":12,"labelPadding":10,"titlePadding":16}},
     "x2":{"field":"b"},
     "y":{"field":"n","type":"quantitative","scale":{"domain":[0,200],"nice":false},"axis":null},
     "y2":{"datum":0}
    }
   },
   {
    "data":{"name":"R"},
    "width":332,"height":295,
    "title":{"text":"Histogram of RightEnds"},
    "mark":{"type":"bar","color":"#000","stroke":"#000","strokeWidth":0.6},
    "encoding":{
     "x":{"field":"a","type":"quantitative","scale":{"domain":[0,2000],"nice":false,"zero":false},
          "axis":{"title":"RightEnds","values":[0,500,1000,1500,2000],"format":"d","offset":12,"labelPadding":10,"titlePadding":16}},
     "x2":{"field":"b"},
     "y":{"field":"n","type":"quantitative","scale":{"domain":[0,200],"nice":false},"axis":null},
     "y2":{"datum":0}
    }
   }
  ]
 }
]
}
